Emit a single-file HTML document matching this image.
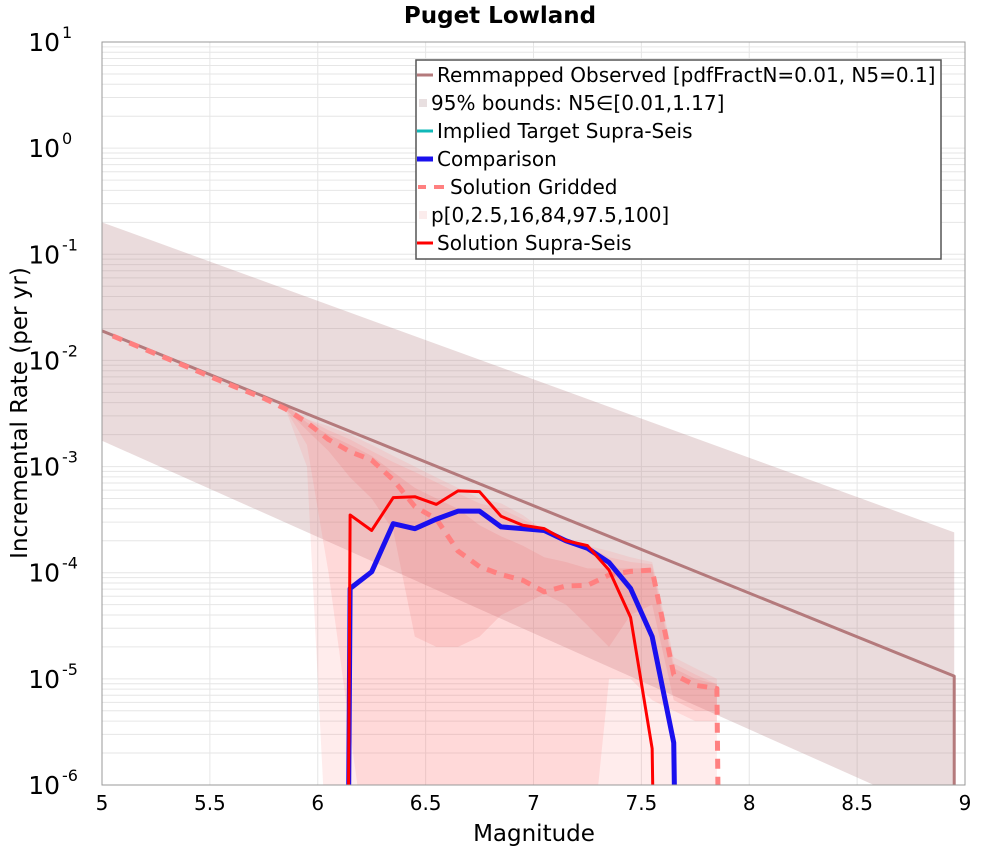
<!DOCTYPE html>
<html><head><meta charset="utf-8"><style>
body{margin:0;background:#fff;font-family:"DejaVu Sans","Liberation Sans",sans-serif;}
</style></head><body>
<svg id="chart" width="1000" height="850" xmlns="http://www.w3.org/2000/svg" style="display:block">
<text x="500" y="23" text-anchor="middle" font-weight="bold" font-size="23" font-family="DejaVu Sans, sans-serif">Puget Lowland</text>
<text x="534" y="841" text-anchor="middle" font-size="23" font-family="DejaVu Sans, sans-serif">Magnitude</text>
<text transform="translate(27,413) rotate(-90)" text-anchor="middle" font-size="23" font-family="DejaVu Sans, sans-serif">Incremental Rate (per yr)</text>
</svg>
<script>
const NS="http://www.w3.org/2000/svg";
const svg=document.getElementById('chart');
const X0=102,X1=965,Y0=42,Y1=785;
const xMin=5,xMax=9,logMin=-6,logMax=1;
function xs(m){return X0+(m-xMin)/(xMax-xMin)*(X1-X0);}
function ys(v){return Y1-(Math.log10(v)-logMin)/(logMax-logMin)*(Y1-Y0);}

// ---- data ----
const xTicks=[5,5.5,6,6.5,7,7.5,8,8.5,9];
const xTickLabels=["5","5.5","6","6.5","7","7.5","8","8.5","9"];
const yExps=[-6,-5,-4,-3,-2,-1,0,1];
const obsMags=[5.0,8.95,8.95];
const obsRates=[1.9e-2,1.06e-5,1e-7];
const boundMags=[5.0,8.95];
const boundUpper=[0.2,2.4e-4];
const boundLower=[1.75e-3,4.6e-7];
const bins=[5.85,5.95,6.05,6.15,6.25,6.35,6.45,6.55,6.65,6.75,6.85,6.95,7.05,7.15,7.25,7.35,7.45,7.55,7.65,7.75,7.85];
const p100=[3.8e-3,2.8e-3,2.4e-3,2.0e-3,1.6e-3,1.26e-3,1.0e-3,7.9e-4,6.3e-4,5.0e-4,4.5e-4,3.5e-4,2.5e-4,2.0e-4,1.8e-4,1.6e-4,1.4e-4,1.26e-4,1.6e-5,1.26e-5,1.0e-5];
const p0=[3.5e-3,1.0e-3,1e-7,1e-7,1e-7,1e-7,1e-7,1e-7,1e-7,1e-7,1e-7,1e-7,1e-7,1e-7,1e-7,1e-7,1e-7,1e-7,1e-7,1e-7,1e-7];
const p975=[3.8e-3,2.8e-3,2.2e-3,1.8e-3,1.4e-3,1.1e-3,8.9e-4,7.1e-4,5.6e-4,4.5e-4,4.0e-4,3.2e-4,2.5e-4,2.0e-4,1.8e-4,1.4e-4,1.26e-4,1.2e-4,1.4e-5,1.1e-5,8.9e-6];
const p25=[3.5e-3,1.6e-3,1.0e-4,3.2e-6,1e-7,1e-7,1e-7,1e-7,1e-7,1e-7,1e-7,1e-7,1e-7,1e-7,1e-7,1e-5,1e-5,6.3e-6,5.0e-6,4.0e-6,4.0e-6];
const p84=[3.8e-3,2.6e-3,2.0e-3,1.6e-3,1.26e-3,8.9e-4,6.3e-4,5.0e-4,4.0e-4,2.8e-4,2.2e-4,1.8e-4,1.4e-4,1.26e-4,1.1e-4,1.1e-4,1.1e-4,1.1e-4,1.26e-5,1.0e-5,8.9e-6];
const p16=[3.5e-3,2.2e-3,1.4e-3,7.9e-4,5.0e-4,2.5e-4,2.5e-5,2.0e-5,2.0e-5,2.5e-5,4.0e-5,5.0e-5,6.3e-5,5.0e-5,3.2e-5,2.0e-5,4.0e-5,5.0e-5,6.3e-6,5.0e-6,5.0e-6];
const griddedMags=[5.05,5.15,5.25,5.35,5.45,5.55,5.65,5.75,5.85,5.95,6.05,6.15,6.25,6.35,6.45,6.55,6.65,6.75,6.85,6.95,7.05,7.15,7.25,7.35,7.45,7.55,7.65,7.75,7.85,7.86];
const griddedRates=[1.7e-2,1.4e-2,1.15e-2,9.5e-3,7.8e-3,6.4e-3,5.3e-3,4.4e-3,3.5e-3,2.6e-3,1.8e-3,1.38e-3,1.15e-3,7.5e-4,4.2e-4,3.2e-4,1.6e-4,1.14e-4,9.6e-5,8.5e-5,6.6e-5,7.5e-5,7.6e-5,9.5e-5,1.03e-4,1.06e-4,1.1e-5,8.7e-6,8.1e-6,1e-7];
const compMags=[6.14,6.15,6.25,6.35,6.45,6.55,6.65,6.75,6.85,6.95,7.05,7.15,7.25,7.35,7.45,7.55,7.65,7.66];
const compRates=[1e-7,7.1e-5,1.02e-4,2.9e-4,2.6e-4,3.2e-4,3.8e-4,3.8e-4,2.7e-4,2.6e-4,2.5e-4,2.0e-4,1.7e-4,1.25e-4,7.1e-5,2.5e-5,2.5e-6,1e-7];
const solMags=[6.14,6.15,6.25,6.35,6.45,6.55,6.65,6.75,6.85,6.95,7.05,7.15,7.25,7.35,7.45,7.55,7.56];
const solRates=[1e-7,3.5e-4,2.5e-4,5.1e-4,5.2e-4,4.4e-4,5.9e-4,5.8e-4,3.4e-4,2.8e-4,2.6e-4,2.0e-4,1.8e-4,1.06e-4,3.8e-5,2.2e-6,1e-7];

function el(tag,attrs,parent){const e=document.createElementNS(NS,tag);for(const k in attrs)e.setAttribute(k,attrs[k]);(parent||svg).appendChild(e);return e;}

const defs=el('defs',{});
const cp=el('clipPath',{id:'clip'},defs);
el('rect',{x:X0,y:Y0,width:X1-X0,height:Y1-Y0},cp);

const grid=el('g',{});


for(let e=logMin;e<logMax;e++){for(let k=1;k<10;k++){const y=ys(k*Math.pow(10,e));el('line',{x1:X0,x2:X1,y1:y,y2:y,stroke:'#e6e6e6','stroke-width':1},grid);}}
for(const t of xTicks){el('line',{x1:xs(t),x2:xs(t),y1:Y0,y2:Y1,stroke:'#e6e6e6','stroke-width':1},grid);}

const plot=el('g',{'clip-path':'url(#clip)'});



function band(mags,up,lo,fill,name){
  let pts=mags.map((m,i)=>xs(m)+','+ys(up[i]));
  for(let i=mags.length-1;i>=0;i--)pts.push(xs(mags[i])+','+ys(lo[i]));
  const p=el('polygon',{points:pts.join(' '),fill:fill},plot);
  
  
}
band(boundMags,boundUpper,boundLower,'rgba(180,125,130,0.28)','bounds-95-band');
band(bins,p100,p0,'rgba(255,120,120,0.14)','p0-p100-band');
band(bins,p975,p25,'rgba(255,120,120,0.16)','p2.5-p97.5-band');
band(bins,p84,p16,'rgba(240,110,110,0.18)','p16-p84-band');

function line(mags,rates,stroke,w,dash,name){
  const p=el('polyline',{points:mags.map((m,i)=>xs(m)+','+ys(rates[i])).join(' '),fill:'none',stroke:stroke,'stroke-width':w,'stroke-linejoin':'round'},plot);
  if(dash)p.setAttribute('stroke-dasharray',dash);
  
  
}
line(obsMags,obsRates,'#b47a7c',3,null,'remapped-observed-line');
line(griddedMags,griddedRates,'#ff8080',5,'10,8','solution-gridded-line');
line(compMags,compRates,'#1a10ee',5,null,'comparison-line');
line(solMags,solRates,'#ff0000',3,null,'solution-supra-seis-line');

const fr=el('rect',{x:X0,y:Y0,width:X1-X0,height:Y1-Y0,fill:'none',stroke:'#999','stroke-width':1});



xTicks.forEach((t,i)=>{
  const tx=el('text',{x:xs(t),y:810,'text-anchor':'middle','font-size':20});
  tx.textContent=xTickLabels[i];
  
  
});
yExps.forEach(e=>{
  const y=ys(Math.pow(10,e));
  const tx=el('text',{x:60,y:y+9,'text-anchor':'end','font-size':25});
  tx.textContent='10';
  
  
  const sp=el('text',{x:62,y:y-4,'text-anchor':'start','font-size':16});
  sp.textContent=String(e);
  
  
});

const lg=el('g',{});


el('rect',{x:416,y:60,width:525,height:199,fill:'#fff',stroke:'#555','stroke-width':1.5},lg);
const entries=[
 ['Remmapped Observed [pdfFractN=0.01, N5=0.1]','line','#b47a7c',3,435],
 ['95% bounds: N5\u2208[0.01,1.17]','box','#e8dfe0',0,429],
 ['Implied Target Supra-Seis','line','#10b8b8',3,435],
 ['Comparison','line','#1a10ee',5,435],
 ['Solution Gridded','dash','#ff8080',5,448],
 ['p[0,2.5,16,84,97.5,100]','box','#fbecec',0,429],
 ['Solution Supra-Seis','line','#ff0000',3,435]
];
entries.forEach((en,i)=>{
  const cy=75+i*28;
  const g=el('g',{},lg);
  
  
  if(en[1]==='line')el('line',{x1:417,x2:433,y1:cy,y2:cy,stroke:en[2],'stroke-width':en[3]},g);
  else if(en[1]==='dash'){el('line',{x1:418,x2:426,y1:cy,y2:cy,stroke:en[2],'stroke-width':4},g);el('line',{x1:434,x2:444,y1:cy,y2:cy,stroke:en[2],'stroke-width':4},g);}
  else el('rect',{x:419,y:cy-4,width:8,height:8,fill:en[2]},g);
  const t=el('text',{x:en[4]+2,y:cy+7,'font-size':20},g);
  t.textContent=en[0];
});
</script>
</body></html>
